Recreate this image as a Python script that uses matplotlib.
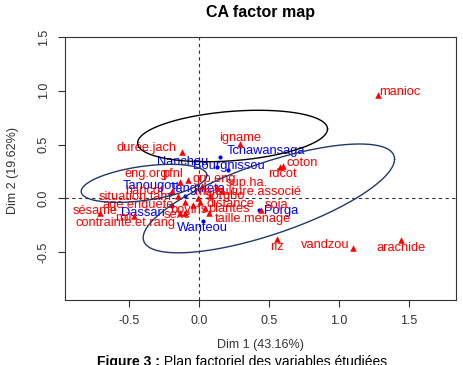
import numpy as np
import matplotlib
matplotlib.use('Agg')
import matplotlib.pyplot as plt

plt.rcParams['font.family'] = ['Liberation Sans', 'DejaVu Sans']

# column categories (red triangles)
col_names = ['manioc', 'igname', 'durée.jach', 'coton', 'rdcot', 'riz', 'vandzou',
             'arachide', 'sésame', 'mil', 'contrainte.et.rang', 'taille.menage', 'soja',
             'distance', 'plantes', 'bovins', 'sexe', 'eng.org', 'pfnl', 'grp.eng',
             'sup.ha.', 'haricot', 'situation.fam', 'age.enquete', 'sorgho',
             'culture.associé', 'maïs']
col_x = [1.283, 0.294, -0.122, 0.602, 0.581, 0.559, 1.104, 1.448, -0.710, -0.466,
         -0.100, 0.072, 0.444, 0.007, 0.043, -0.043, -0.136, -0.136, -0.079, 0.022,
         0.129, -0.194, -0.151, -0.100, 0.079, 0.165, -0.007]
col_y = [0.963, 0.505, 0.430, 0.299, 0.290, -0.374, -0.458, -0.383, -0.131, -0.168,
         -0.140, -0.140, -0.112, -0.037, -0.093, -0.065, -0.140, 0.150, 0.168, 0.112,
         0.103, 0.065, 0.019, -0.037, 0.019, 0.065, 0.000]

# row categories (blue dots)
row_names = ['Tchawansaga', 'Nanchou', 'Bourgnissou', 'Tanougou', 'Tanguiéta',
             'Dassari', 'Porga', 'Wanteou']
row_x = [0.151, 0.129, 0.208, -0.208, -0.100, -0.194, 0.430, 0.029]
row_y = [0.383, 0.290, 0.262, 0.037, 0.019, -0.075, -0.112, -0.206]

# confidence ellipses: centre, x half-axis, y tilt of major axis, minor y half-axis
ell_cx = [0.24, -0.394, 0.50]
ell_cy = [0.58, 0.14, 0.00]
ell_a = [0.68, 0.45, 0.90]
ell_b = [0.065, 0.075, 0.365]
ell_c = [0.23, 0.16, 0.35]
ell_colors = ['black', '#22386a', '#22386a']

# label offsets in pixels (dx, dy)
col_off = [(22, 3), (0, 6), (-36, 4), (19, 3), (2, -7), (0, -8), (-28, 3), (0, -8),
           (-5, 2), (-11, -2), (-60, -10), (44, -6), (15, 5), (30, -2), (24, -1),
           (-4, -5), (-3, -2), (-34, 8), (-15, 6), (12, 7), (30, 4), (-28, 0),
           (-43, -1), (-47, -3), (15, 0), (36, -1), (10, 6)]
row_off = [(46, 6), (-34, 5), (1, 4), (-19, 8), (13, 7), (-29, -7), (22, -1), (-1, -7)]

RED = '#ff0000'
BLUE = '#0000ff'
FS = 9.3

fig = plt.figure(figsize=(4.63, 3.65), dpi=100)
ax = fig.add_axes([65 / 463, 65 / 365, 391 / 463, 263 / 365])

ax.axhline(0, color='#333333', lw=0.8, ls=(0, (3, 3)), zorder=1)
ax.axvline(0, color='#333333', lw=0.8, ls=(0, (3, 3)), zorder=1)

ax.scatter(row_x, row_y, s=9, color=BLUE, marker='o', zorder=3, linewidths=0)
for name, x, y, (dx, dy) in zip(row_names, row_x, row_y, row_off):
    ax.annotate(name, (x, y), xytext=(dx, dy), textcoords='offset pixels',
                ha='center', va='center', color=BLUE, fontsize=FS, zorder=3)

ax.scatter(col_x, col_y, s=22, color=RED, marker='^', zorder=4, linewidths=0)
for name, x, y, (dx, dy) in zip(col_names, col_x, col_y, col_off):
    ax.annotate(name, (x, y), xytext=(dx, dy), textcoords='offset pixels',
                ha='center', va='center', color=RED, fontsize=FS, zorder=4)

t = np.linspace(0, 2 * np.pi, 300)
for cx, cy, a, b, c, col in zip(ell_cx, ell_cy, ell_a, ell_b, ell_c, ell_colors):
    ax.plot(cx + a * np.cos(t), cy + b * np.cos(t) + c * np.sin(t),
            color=col, lw=1.0, zorder=5)

ax.set_xlim(-0.96, 1.84)
ax.set_ylim(-0.944, 1.5)
ax.set_xticks([-0.5, 0.0, 0.5, 1.0, 1.5])
ax.set_yticks([-0.5, 0.0, 0.5, 1.0, 1.5])
ax.set_xticklabels(['-0.5', '0.0', '0.5', '1.0', '1.5'])
ax.set_yticklabels(['-0.5', '0.0', '0.5', '1.0', '1.5'], rotation=90, va='center')
ax.tick_params(length=5, width=0.8, color='#333333', labelsize=9,
               labelcolor='#333333', pad=6)
for sp in ax.spines.values():
    sp.set_linewidth(0.8)
    sp.set_color('#333333')

fig.text(260 / 463, 1 - 13 / 365, 'CA factor map', ha='center', va='center',
         fontsize=11.5, fontweight='bold')
fig.text(260 / 463, 1 - 345 / 365, 'Dim 1 (43.16%)', ha='center', va='center',
         fontsize=9, color='#333333')
fig.text(13 / 463, 1 - 170 / 365, 'Dim 2 (19.62%)', ha='center', va='center',
         fontsize=9, color='#333333', rotation=90)

cap = fig.text(97 / 463, 1 - 369 / 365, 'Figure 3 :', ha='left', va='bottom',
               fontsize=10, fontweight='bold')
ax.annotate(' Plan factoriel des variables étudiées', xy=(1, 0), xycoords=cap,
            ha='left', va='bottom', fontsize=10, annotation_clip=False)

fig.savefig('out.png', dpi=100)
